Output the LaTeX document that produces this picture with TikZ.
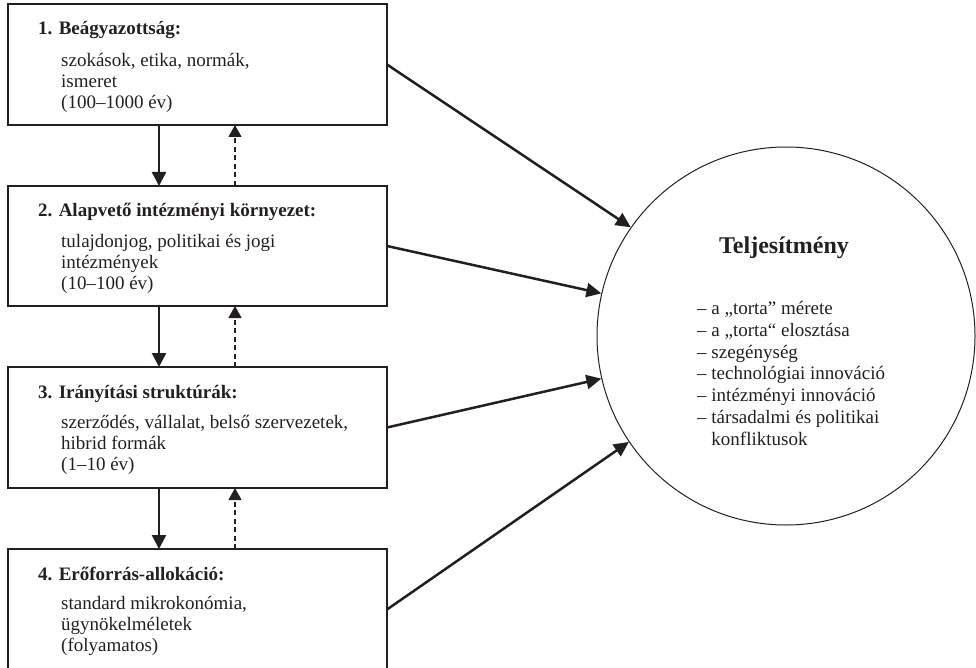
\documentclass[tikz,border=0pt]{standalone}
\usepackage{fontspec}
\setmainfont{Liberation Serif}
\usetikzlibrary{arrows.meta}
\definecolor{ink}{RGB}{35,31,32}
\begin{document}
\begin{tikzpicture}[x=1pt,y=-1pt,
  box/.style={draw=ink,line width=1.3pt,minimum width=379pt,minimum height=121pt,inner sep=0pt,outer sep=0pt,anchor=north west},
  ttl/.style={anchor=base west,inner sep=0pt,font=\fontsize{19}{21}\selectfont\bfseries,text=ink},
  body/.style={anchor=north west,inner sep=0pt,align=left,font=\fontsize{19}{21}\selectfont,text=ink},
  down/.style={draw=ink,line width=2.5pt,-{Triangle[length=14pt,width=14pt]}},
  up/.style={draw=ink,line width=1.1pt,dash pattern=on 5pt off 3.5pt,-{Triangle[length=12pt,width=13pt]}},
  toc/.style={draw=ink,line width=2.5pt,-{Triangle[length=15pt,width=14pt]}}
]
\clip (0,0) rectangle (976,668);
% boxes
\node[box] (b1) at (8,4) {};
\node[box,minimum height=120pt] (b2) at (8,186) {};
\node[box] (b3) at (8,367) {};
\node[box] (b4) at (8,549) {};
% box texts
\node[ttl] (h1) at (38,35) {1. Beágyazottság:};
\node[body] (d1) at (61,51.3) {\strut szokások, etika, normák,\\ ismeret\\ (100–1000 év)};
\node[ttl] (h2) at (38,217) {2. Alapvető intézményi környezet:};
\node[body] (d2) at (61,232.3) {\strut tulajdonjog, politikai és jogi\\ intézmények\\ (10–100 év)};
\node[ttl] (h3) at (38,398) {3. Irányítási struktúrák:};
\node[body] (d3) at (61,413.3) {\strut szerződés, vállalat, belső szervezetek,\\ hibrid formák\\ (1–10 év)};
\node[ttl] (h4) at (38,580) {4. Erőforrás-allokáció:};
\node[body] (d4) at (61,594.3) {\strut standard mikrokonómia,\\ ügynökelméletek\\ (folyamatos)};
% vertical arrows
\coordinate (xs) at (159,0);
\coordinate (xd) at (235,0);
\draw[down] (b1.south -| xs) -- (b2.north -| xs);
\draw[down] (b2.south -| xs) -- (b3.north -| xs);
\draw[down] (b3.south -| xs) -- (b4.north -| xs);
\draw[up] (b2.north -| xd) -- (b1.south -| xd);
\draw[up] (b3.north -| xd) -- (b2.south -| xd);
\draw[up] (b4.north -| xd) -- (b3.south -| xd);
% circle
\node[circle,draw=ink,line width=1pt,minimum size=378pt,inner sep=0pt] (c) at (786,336) {};
\node[anchor=base,inner sep=0pt,font=\fontsize{24}{28}\selectfont\bfseries,text=ink] (tt) at (784,254) {Teljesítmény};
\node[body,font=\fontsize{19}{21.7}\selectfont] (lst) at (697,299.5) {\strut – a „torta” mérete\\
– a „torta“ elosztása\\
– szegénység\\
– technológiai innováció\\
– intézményi innováció\\
– társadalmi és politikai\\
\hphantom{– }konfliktusok};
% arrows to circle
\draw[toc] (b1.east) -- (c.145.6);
\draw[toc] (b2.east) -- (c.167.5);
\draw[toc] (b3.east) -- (c.193.3);
\draw[toc] (b4.east) -- (c.214.4);
\end{tikzpicture}
\end{document}
